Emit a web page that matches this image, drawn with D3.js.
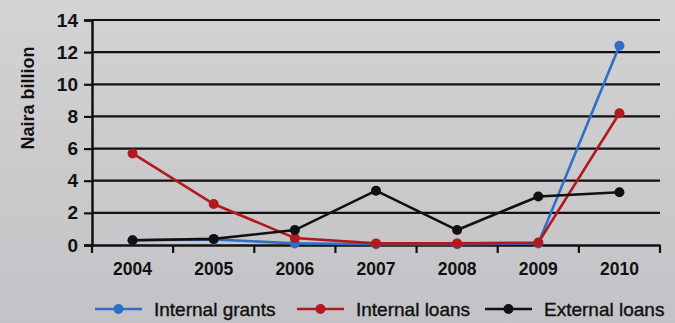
<!DOCTYPE html>
<html>
<head>
<meta charset="utf-8">
<script src="https://cdn.jsdelivr.net/npm/d3@7"></script>
<style>
  body { margin: 0; background: #cbcbcd; }
  svg { display: block; font-family: "Liberation Sans", Arial, sans-serif; }
</style>
</head>
<body>
<svg id="chart"></svg>
<script>
const years = ["2004", "2005", "2006", "2007", "2008", "2009", "2010"];
const internalGrants = [0.3, 0.35, 0.1, 0.05, 0.05, 0.1, 12.4];
const internalLoans = [5.7, 2.55, 0.43, 0.1, 0.1, 0.15, 8.2];
const externalLoans = [0.3, 0.38, 0.93, 3.38, 0.93, 3.02, 3.28];
const yTicks = [0, 2, 4, 6, 8, 10, 12, 14];
const seriesNames = ["Internal grants", "Internal loans", "External loans"];
const seriesColors = ["#2f6fc8", "#b01a1c", "#111111"];

const W = 675, H = 323;
const margin = {top: 20, right: 15, bottom: 78, left: 92};

const svg = d3.select("#chart").attr("width", W).attr("height", H);

const defs = svg.append("defs");
const grad = defs.append("linearGradient").attr("id", "bg")
  .attr("x1", 0).attr("y1", 0).attr("x2", 0).attr("y2", 1);
grad.append("stop").attr("offset", "0%").attr("stop-color", "#d3d3d3");
grad.append("stop").attr("offset", "100%").attr("stop-color", "#c3c3c7");
svg.append("rect").attr("width", W).attr("height", H).attr("fill", "url(#bg)");

const x = d3.scaleBand().domain(years)
  .range([margin.left, W - margin.right]);
const y = d3.scaleLinear().domain([0, 14])
  .range([H - margin.bottom, margin.top]);

// gridlines
svg.append("g").selectAll("line")
  .data(yTicks.filter(d => d > 0))
  .enter().append("line")
  .attr("x1", margin.left).attr("x2", W - margin.right)
  .attr("y1", d => y(d)).attr("y2", d => y(d))
  .attr("stroke", "#111").attr("stroke-width", 2.2);

// y axis
const yAxis = svg.append("g")
  .attr("transform", `translate(${margin.left},0)`)
  .call(d3.axisLeft(y).tickValues(yTicks).tickSize(8).tickPadding(6));
yAxis.select(".domain").attr("stroke", "#111").attr("stroke-width", 2.5);
yAxis.selectAll(".tick line").attr("stroke", "#111").attr("stroke-width", 2.2);
yAxis.selectAll(".tick text")
  .attr("fill", "#111").style("font-size", "19px").style("font-weight", "bold");

// x axis
const xAxis = svg.append("g")
  .attr("transform", `translate(0,${y(0)})`)
  .call(d3.axisBottom(x).tickSize(0).tickPadding(18));
xAxis.select(".domain").attr("stroke", "#111").attr("stroke-width", 2.5);
xAxis.selectAll(".tick text")
  .attr("fill", "#111").style("font-size", "17.5px").style("font-weight", "bold");
// tick marks between bands
const bounds = years.map(d => x(d)).concat([x.range()[1]]);
svg.append("g").selectAll("line")
  .data(bounds)
  .enter().append("line")
  .attr("x1", d => d).attr("x2", d => d)
  .attr("y1", y(0)).attr("y2", y(0) + 8)
  .attr("stroke", "#111").attr("stroke-width", 2.2);

svg.append("text")
  .attr("transform", `translate(34,98) rotate(-90)`)
  .attr("text-anchor", "middle")
  .attr("fill", "#111")
  .style("font-size", "18px").style("font-weight", "bold")
  .text("Naira billion");

const cx = d => x(d) + x.bandwidth() / 2;
const line = d3.line().x(d => cx(d.year)).y(d => y(d.value));

const series = [internalGrants, internalLoans, externalLoans].map((vals, i) => ({
  name: seriesNames[i],
  color: seriesColors[i],
  points: years.map((yr, j) => ({year: yr, value: vals[j]}))
}));

const g = svg.append("g").selectAll("g")
  .data(series).enter().append("g");
g.append("path")
  .attr("d", d => line(d.points))
  .attr("fill", "none")
  .attr("stroke", d => d.color)
  .attr("stroke-width", 2.6);
g.selectAll("circle")
  .data(d => d.points.map(p => ({...p, color: d.color})))
  .enter().append("circle")
  .attr("cx", d => cx(d.year)).attr("cy", d => y(d.value))
  .attr("r", 5).attr("fill", d => d.color);

// legend
const legendX = [95, 297, 485];
const legendY = 309;
const leg = svg.append("g").selectAll("g")
  .data(series).enter().append("g")
  .attr("transform", (d, i) => `translate(${legendX[i]},${legendY})`);
leg.append("line")
  .attr("x1", 0).attr("x2", 47).attr("y1", 0).attr("y2", 0)
  .attr("stroke", d => d.color).attr("stroke-width", 2.6);
leg.append("circle").attr("cx", 23.5).attr("cy", 0).attr("r", 5)
  .attr("fill", d => d.color);
leg.append("text")
  .attr("x", 59).attr("y", 0).attr("dy", "0.35em")
  .attr("fill", "#111").attr("stroke", "#111").attr("stroke-width", 0.4)
  .style("font-size", "19px")
  .text(d => d.name);
</script>
</body>
</html>
